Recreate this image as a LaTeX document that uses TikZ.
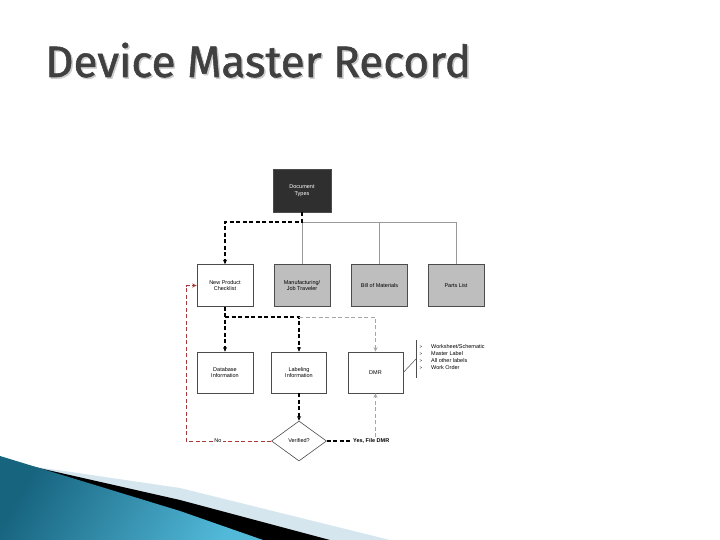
\documentclass[tikz,border=0pt]{standalone}
\usepackage{fontspec}
\setmainfont{Liberation Sans}
\newfontfamily\titlefont{Fira Sans}[FakeBold=1.2]
\usetikzlibrary{shapes.geometric,arrows.meta}
\definecolor{boxgray}{HTML}{BEBEBE}
\definecolor{typesfill}{HTML}{2F2F2F}
\definecolor{titlegray}{HTML}{404040}
\definecolor{swooshdark}{HTML}{17647F}
\definecolor{swooshlight}{HTML}{52B9D9}
\definecolor{swooshpale}{HTML}{D5E6EE}
\definecolor{nored}{HTML}{A83A3A}
\tikzstyle{docbox}=[
    draw=black!70,line width=0.6pt,
    minimum width=56pt,minimum height=42pt,
    inner sep=1pt,align=center,
    font=\fontsize{5.5}{6.5}\selectfont
    ]
\tikzstyle{graybox}=[docbox,fill=boxgray]
\tikzstyle{flow}=[
    dash pattern=on 4pt off 2.5pt,line width=1.1pt,
    -{Stealth[length=4.5pt,width=4pt]}
    ]
\tikzstyle{grayflow}=[flow,draw=black!35,line width=0.7pt]
\tikzstyle{noflow}=[flow,draw=nored,line width=0.8pt]
\tikzstyle{tree}=[draw=black!40,line width=0.7pt]
\tikzstyle{smalltext}=[font=\fontsize{5.5}{6.5}\selectfont,inner sep=1pt]

\begin{document}
\begin{tikzpicture}[x=1pt,y=-1pt]
\useasboundingbox (0,0) rectangle (720,540);
%swoosh
\fill[swooshpale] (30,466) -- (180,488) -- (390,540) -- (0,540) -- cycle;
\fill[black] (30,466) -- (180,500) -- (330,540) -- (0,540) -- cycle;
\shade[left color=swooshdark,right color=swooshlight,shading angle=60]
  (0,456) -- (180,511) -- (263,540) -- (0,540) -- cycle;
%title
\node[text=black!20,anchor=base west,font=\titlefont\fontsize{44}{48}\selectfont,inner sep=0pt] at (46.5,78.5) {Device Master Record};
\node (title)[text=titlegray,anchor=base west,font=\titlefont\fontsize{44}{48}\selectfont,inner sep=0pt] at (45,77) {Device Master Record};
%document types
\node (types)[docbox,fill=typesfill,text=white,minimum width=58pt,minimum height=43pt] at (302,190.5) {Document\\Types};
\node (checklist)[docbox] at (225,285.5) {New Product\\Checklist};
\node (traveler)[graybox] at (302,285.5) {Manufacturing/\\Job Traveler};
\node (bom)[graybox] at (379.5,285.5) {Bill of Materials};
\node (parts)[graybox] at (456,285.5) {Parts List};
\node (dbinfo)[docbox,minimum height=41pt] at (225,372.5) {Database\\Information};
\node (labinfo)[docbox,minimum width=55pt,minimum height=41pt] at (299,372.5) {Labeling\\Information};
\node (dmr)[docbox,minimum width=55pt,minimum height=41pt] at (375.5,372.5) {DMR};
\node (verified)[draw=black!70,line width=0.6pt,diamond,minimum width=55pt,minimum height=40pt,inner sep=0pt,font=\fontsize{5.5}{6.5}\selectfont] at (299,441) {Verified?};
%tree
\coordinate (bus) at (302,222);
\draw[tree] (bus) -| (parts.north);
\draw[tree] (bus) -- (traveler.north);
\draw[tree] (bom.north |- bus) -- (bom.north);
\draw[flow] (types.south) -- (bus) -| (checklist.north);
%second row
\coordinate (split) at (225,317);
\draw[flow] (checklist.south) -- (dbinfo.north);
\draw[flow] (split) -| (labinfo.north);
\draw[grayflow] (labinfo.north |- split) -| (dmr.north);
\draw[flow] (labinfo.south) -- (verified.north);
%no / yes
\coordinate (noturn) at (186,441);
\draw[noflow] (verified.west) -- (noturn) |- (checklist.west);
\node (no)[smalltext,fill=white] at (218,441) {No};
\node (yes)[smalltext,anchor=west,font=\fontsize{5.5}{6.5}\selectfont\bfseries] at (352,441) {Yes, File DMR};
\draw[flow,-] (verified.east) -- (yes.west);
\draw[grayflow] (dmr.south |- yes.north) -- (dmr.south);
%dmr contents
\coordinate (bracket) at (416,359);
\draw[black!70,line width=0.6pt] (416,340) -- (416,378);
\draw[black!70,line width=0.5pt] (dmr.east) -- (bracket);
\foreach \item [count=\i] in {Worksheet/Schematic,Master Label,All other labels,Work Order}{
  \node (bullet\i)[smalltext,font=\fontsize{4.5}{5}\selectfont] at (421,340+7*\i) {>};
  \node (entry\i)[smalltext,anchor=west] at (430,340+7*\i) {\item};
}
\end{tikzpicture}
\end{document}
